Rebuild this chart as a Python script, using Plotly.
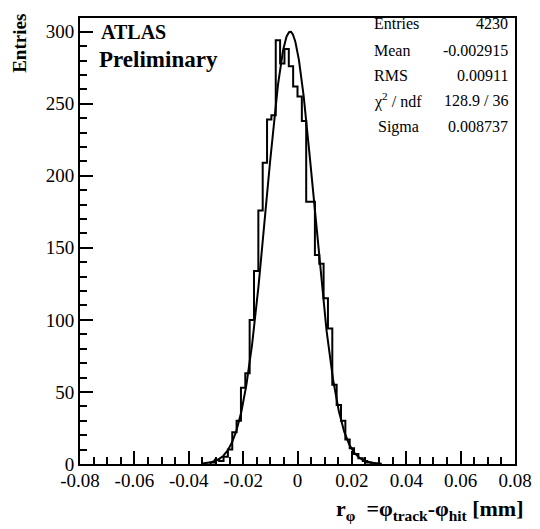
import numpy as np
import plotly.graph_objects as go

# ---------------- data ----------------
bin_width = 0.0016
first_bin_low = -0.032
counts = [1, 3, 2, 5, 10, 22, 30, 53, 63, 100, 134, 176, 209, 239, 242, 294, 278, 288, 276, 262,
          255, 238, 182, 182, 145, 139, 115, 94, 55, 41, 30, 17, 11, 7, 4, 2, 1]

fit_constant = 300.0
fit_mean = -0.0027
fit_sigma = 0.008737
fit_low, fit_high = -0.035, 0.031

x_tickvals = [-0.08, -0.06, -0.04, -0.02, 0, 0.02, 0.04, 0.06, 0.08]
x_ticktext = ["-0.08", "-0.06", "-0.04", "-0.02", "0", "0.02", "0.04", "0.06", "0.08"]
y_tickvals = [0, 50, 100, 150, 200, 250, 300]
y_ticktext = ["0", "50", "100", "150", "200", "250", "300"]

stat_labels = ["Entries", "Mean", "RMS", "χ<sup>2</sup> / ndf", " Sigma"]
stat_values = ["4230", "-0.002915", "0.00911", "128.9 / 36", "0.008737"]

# ---------------- geometry (page pixels; body has an 8px default margin) ----------------
PAGE_W, PAGE_H = 540, 529
OFF = 8
W, H = PAGE_W - OFF, PAGE_H - OFF
L, R, T, B = 80 - OFF, 517 - OFF, 16 - OFF, 464 - OFF


def px(xp):
    return (xp - OFF - L) / (R - L)


def py(yp):
    return (B - (yp - OFF)) / (B - T)


n = len(counts)
edges = [first_bin_low + i * bin_width for i in range(n + 1)]
step_x = [edges[0]] + edges[:-1] + [edges[-1]]
step_y = [0] + counts + [0]

fx = np.linspace(fit_low, fit_high, 500)
fy = fit_constant * np.exp(-0.5 * ((fx - fit_mean) / fit_sigma) ** 2)

fig = go.Figure()
fig.add_trace(go.Scatter(x=step_x, y=step_y, mode="lines", line=dict(shape="hv", color="black", width=2),
                         showlegend=False, hoverinfo="skip"))
fig.add_trace(go.Scatter(x=fx, y=fy, mode="lines", line=dict(color="black", width=2),
                         showlegend=False, hoverinfo="skip"))

serif = "Liberation Serif"
axis_common = dict(showgrid=False, zeroline=False, linecolor="black", linewidth=2, mirror=True,
                   ticks="inside", tickcolor="black", tickwidth=1.5, ticklen=13,
                   tickfont=dict(family=serif, size=19, color="black"))

fig.update_xaxes(range=[-0.08, 0.08], tickvals=x_tickvals, ticktext=x_ticktext, ticklabelstandoff=-2,
                 minor=dict(ticks="inside", dtick=0.005, tick0=0, ticklen=7, tickcolor="black",
                            tickwidth=1.5, showgrid=False), **axis_common)
fig.update_yaxes(range=[0, 309.5], tickvals=y_tickvals, ticktext=y_ticktext, ticklabelstandoff=0,
                 minor=dict(ticks="inside", dtick=10, tick0=0, ticklen=7, tickcolor="black",
                            tickwidth=1.5, showgrid=False), **axis_common)

ann = []
ann.append(dict(x=px(99), y=py(30), xref="paper", yref="paper", text="<b>ATLAS</b>", showarrow=False,
                xanchor="left", yanchor="middle", font=dict(family=serif, size=20, color="black")))
ann.append(dict(x=px(97), y=py(58), xref="paper", yref="paper", text="<b>Preliminary</b>", showarrow=False,
                xanchor="left", yanchor="middle", font=dict(family=serif, size=23, color="black")))
stat_rows = [22, 49, 74, 99, 125]
for lab, val, yy in zip(stat_labels, stat_values, stat_rows):
    ann.append(dict(x=px(373), y=py(yy), xref="paper", yref="paper", text=lab, showarrow=False,
                    xanchor="left", yanchor="middle", font=dict(family=serif, size=16, color="black")))
    ann.append(dict(x=px(512), y=py(yy), xref="paper", yref="paper", text=val, showarrow=False,
                    xanchor="right", yanchor="middle", font=dict(family=serif, size=16, color="black")))
ann.append(dict(x=px(19), y=py(10), xref="paper", yref="paper", text="<b>Entries</b>", showarrow=False,
                textangle=-90, xanchor="center", yanchor="top", font=dict(family=serif, size=19, color="black")))
ann.append(dict(x=px(528), y=py(510), xref="paper", yref="paper",
                text="<b>r<sub>φ</sub>  =φ<sub>track</sub>-φ<sub>hit</sub> [mm]</b>", showarrow=False,
                xanchor="right", yanchor="middle", font=dict(family=serif, size=22, color="black")))

fig.update_layout(width=W, height=H, margin=dict(l=L, r=W - R, t=T, b=H - B, pad=0),
                  paper_bgcolor="white", plot_bgcolor="white", annotations=ann)

fig.write_html("out.html")
